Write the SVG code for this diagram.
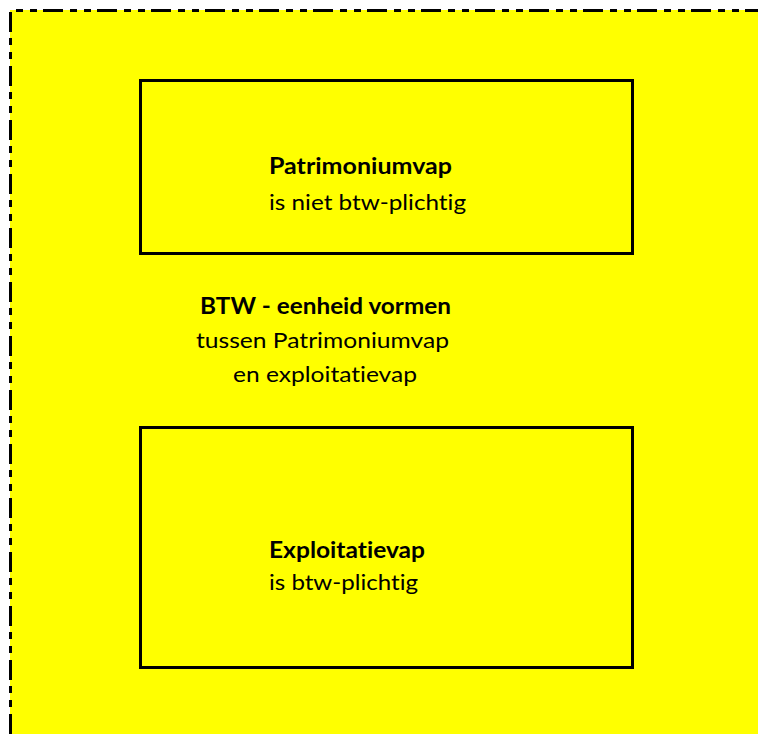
<svg xmlns="http://www.w3.org/2000/svg" width="758" height="734" viewBox="0 0 758 734">
<style>
.t{font-family:Lato,"Open Sans","Noto Sans","Liberation Sans",sans-serif;font-size:22px;fill:#000;font-variant-ligatures:none;font-feature-settings:"liga" 0,"dlig" 0}
.b{font-weight:bold}
.box{fill:none;stroke:#000;stroke-width:3}
.border{fill:none;stroke:#000;stroke-width:3;stroke-dasharray:20 7 7 7 7 6}
</style>
<rect x="0" y="0" width="758" height="734" fill="#fff"/>
<g id="background">
<rect x="10" y="10" width="748" height="724" fill="#ffff00"/>
<path class="border" d="M10.5 734 V10.5 H758"/>
</g>
<g id="patrimoniumvap">
<rect class="box" x="140.5" y="80.5" width="492" height="173"/>
<text class="t b" x="269" y="174" textLength="183" lengthAdjust="spacingAndGlyphs">Patrimoniumvap</text>
<text class="t" x="269" y="210" textLength="197" lengthAdjust="spacingAndGlyphs">is niet btw-plichtig</text>
</g>
<g id="btw-eenheid">
<text class="t b" x="325.5" y="314" text-anchor="middle" textLength="251" lengthAdjust="spacingAndGlyphs">BTW - eenheid vormen</text>
<text class="t" x="322.5" y="348" text-anchor="middle" textLength="253" lengthAdjust="spacingAndGlyphs">tussen Patrimoniumvap</text>
<text class="t" x="325" y="382" text-anchor="middle" textLength="184" lengthAdjust="spacingAndGlyphs">en exploitatievap</text>
</g>
<g id="exploitatievap">
<rect class="box" x="140.5" y="427.5" width="492" height="240"/>
<text class="t b" x="269" y="558" textLength="156" lengthAdjust="spacingAndGlyphs">Exploitatievap</text>
<text class="t" x="269" y="590" textLength="149" lengthAdjust="spacingAndGlyphs">is btw-plichtig</text>
</g>
<g id="connectors"/>
</svg>
